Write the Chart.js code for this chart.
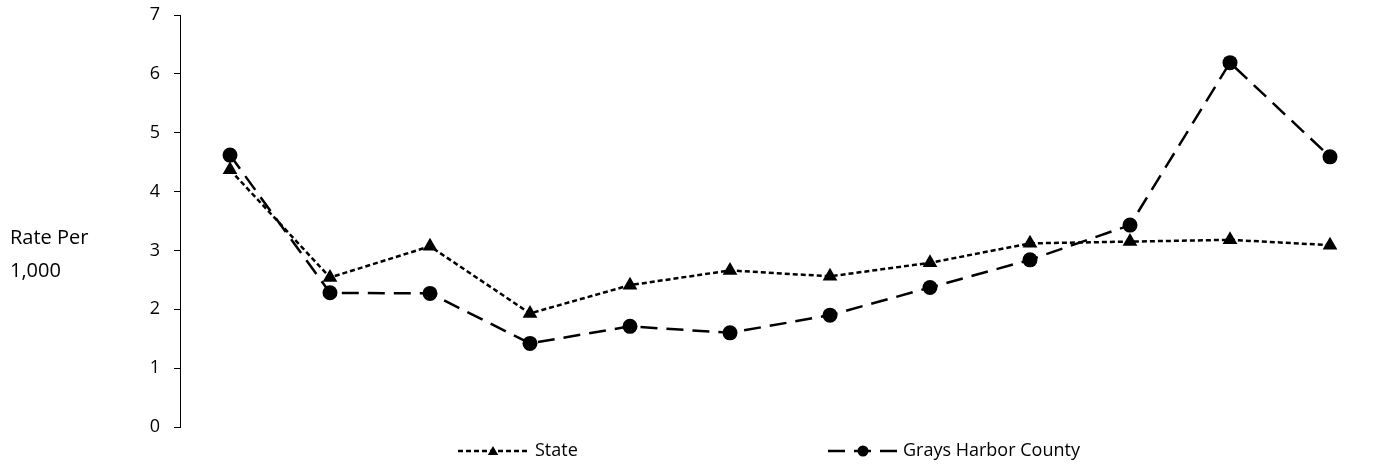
<!DOCTYPE html>
<html lang="en">

<head>
    <meta charset="UTF-8">
    <title>Rate Per 1,000</title>
    <script src="https://cdn.jsdelivr.net/npm/chart.js@4.4.1/dist/chart.umd.min.js"></script>
    <style>
        html, body {
            margin: 0;
            padding: 0;
            background: #fff;
        }

        #wrap {
            width: 1396px;
            height: 466px;
            position: relative;
        }
    </style>
</head>

<body>
    <div id="wrap"><canvas id="chart"></canvas></div>

    <script>
        // the x axis carries no labels in the original, so the 12 periods are just numbered
        const periods = ['1', '2', '3', '4', '5', '6', '7', '8', '9', '10', '11', '12'];
        const stateRates = [4.37, 2.54, 3.07, 1.93, 2.41, 2.66, 2.56, 2.79, 3.12, 3.15, 3.18, 3.09];
        const countyRates = [4.62, 2.28, 2.27, 1.42, 1.71, 1.60, 1.90, 2.37, 2.84, 3.43, 6.19, 4.59];
        const yTicks = [0, 1, 2, 3, 4, 5, 6, 7];
        const yTitle = ['Rate Per', '1,000'];

        const FONT = '"Open Sans", sans-serif';

        // horizontal y title on the left, two lines
        const yTitlePlugin = {
            id: 'yTitle',
            afterDraw(chart) {
                const ctx = chart.ctx;
                ctx.save();
                ctx.fillStyle = '#000';
                ctx.font = '20px ' + FONT;
                ctx.textAlign = 'left';
                ctx.textBaseline = 'middle';
                ctx.fillText(yTitle[0], 10, 238);
                ctx.fillText(yTitle[1], 10, 271);
                ctx.restore();
            }
        };

        // excel style legend: dashed line sample with the marker in the middle
        const lineLegend = {
            id: 'lineLegend',
            afterDraw(chart) {
                const ctx = chart.ctx;
                const spots = [{ x: 458, text: 535 }, { x: 828, text: 903 }];
                const y = 451;
                chart.data.datasets.forEach((ds, i) => {
                    const s = spots[i];
                    ctx.save();
                    ctx.strokeStyle = ds.borderColor;
                    ctx.lineWidth = ds.borderWidth;
                    ctx.setLineDash(ds.borderDash);
                    ctx.beginPath();
                    ctx.moveTo(s.x, y);
                    ctx.lineTo(s.x + 70, y);
                    ctx.stroke();
                    ctx.setLineDash([]);
                    ctx.fillStyle = ds.pointBackgroundColor;
                    ctx.strokeStyle = ds.pointBorderColor;
                    Chart.helpers.drawPoint(ctx, {
                        pointStyle: ds.pointStyle,
                        radius: ds.pointStyle === 'circle' ? 5.5 : 6,
                        rotation: 0,
                        borderWidth: 0
                    }, s.x + 35, y + (ds.pointStyle === 'triangle' ? 1 : 0));
                    ctx.fillStyle = '#000';
                    ctx.font = '18px ' + FONT;
                    ctx.textAlign = 'left';
                    ctx.textBaseline = 'middle';
                    ctx.fillText(ds.label, s.text, y);
                    ctx.restore();
                });
            }
        };

        const ctx = document.getElementById('chart').getContext('2d');
        const myChart = new Chart(ctx, {
            type: 'line',
            data: {
                labels: periods,
                datasets: [{
                    label: 'State',
                    data: stateRates,
                    borderColor: '#000',
                    borderWidth: 2.5,
                    borderDash: [5, 3],
                    pointStyle: 'triangle',
                    pointRadius: 8.5,
                    pointBackgroundColor: '#000',
                    pointBorderColor: '#000',
                    pointBorderWidth: 0,
                    tension: 0
                }, {
                    label: 'Grays Harbor County',
                    data: countyRates,
                    borderColor: '#000',
                    borderWidth: 2.5,
                    borderDash: [17, 9],
                    pointStyle: 'circle',
                    pointRadius: 7.5,
                    pointBackgroundColor: '#000',
                    pointBorderColor: '#000',
                    pointBorderWidth: 0,
                    tension: 0
                }]
            },
            options: {
                responsive: true,
                maintainAspectRatio: false,
                animation: false,
                layout: {
                    padding: { top: 15, right: 16, bottom: 39, left: 0 }
                },
                plugins: {
                    legend: { display: false },
                    tooltip: { enabled: false }
                },
                scales: {
                    x: {
                        display: false,
                        offset: true
                    },
                    y: {
                        min: 0,
                        max: 7,
                        afterFit: function (scale) {
                            scale.width = 180;
                            // let the layout padding alone decide the top/bottom of the plot
                            scale.paddingTop = 0;
                            scale.paddingBottom = 0;
                        },
                        afterBuildTicks: function (scale) {
                            scale.ticks = yTicks.map(v => ({ value: v }));
                        },
                        border: { display: true, color: '#000', width: 1 },
                        grid: {
                            drawOnChartArea: false,
                            drawTicks: true,
                            tickLength: 6,
                            color: '#000'
                        },
                        ticks: {
                            padding: 14,
                            color: '#000',
                            font: { family: FONT, size: 18 }
                        }
                    }
                }
            },
            plugins: [yTitlePlugin, lineLegend]
        });
    </script>

</body>

</html>
